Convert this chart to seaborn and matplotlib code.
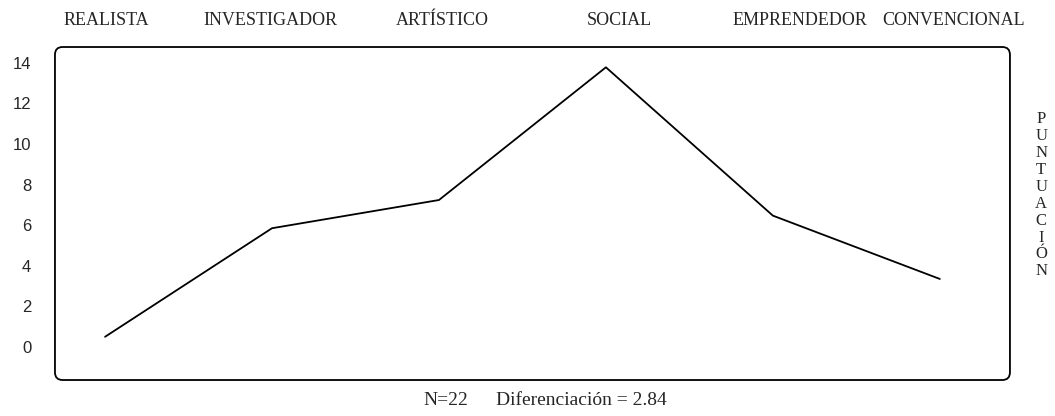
import matplotlib
matplotlib.use("Agg")
import matplotlib.pyplot as plt
import seaborn as sns
import pandas as pd
from matplotlib.patches import FancyBboxPatch

# data
categories = ["REALISTA", "INVESTIGADOR", "ARTÍSTICO", "SOCIAL", "EMPRENDEDOR", "CONVENCIONAL"]
scores = [0.5, 5.85, 7.24, 13.78, 6.47, 3.35]
yticks = [0, 2, 4, 6, 8, 10, 12, 14]
n_text = "N=22"
diff_text = "Diferenciación = 2.84"
side_label = "PUNTUACIÓN"

df = pd.DataFrame({"idx": range(len(categories)), "score": scores})

sns.set_style("white")
serif = ["Liberation Serif", "DejaVu Serif"]
sans = ["Liberation Sans", "DejaVu Sans"]

fig = plt.figure(figsize=(10.55, 4.16), dpi=100)
ax = fig.add_axes([0.0521, 0.0865, 0.9052, 0.8005])

sns.lineplot(data=df, x="idx", y="score", color="black", linewidth=1.3, ax=ax)

ax.set_xlim(-0.30, 5.42)
ax.set_ylim(-1.63, 14.78)
for s in ax.spines.values():
    s.set_visible(False)

# rounded frame
box = FancyBboxPatch((0.0, 0.0), 1.0, 1.0, boxstyle="round,pad=0,rounding_size=0.008",
                     transform=ax.transAxes, fill=False, edgecolor="black", linewidth=1.3,
                     mutation_aspect=2.9, clip_on=False)
ax.add_patch(box)

ax.set_yticks(yticks)
ax.set_yticklabels([str(v) for v in yticks], fontfamily=sans, fontsize=12)
ax.tick_params(axis="y", length=0, pad=17)

# category labels on top
label_pos = [0.01, 0.99, 2.02, 3.08, 4.16, 5.08]
ax.xaxis.tick_top()
ax.set_xticks(label_pos)
ax.set_xticklabels(categories, fontfamily=serif, fontsize=13)
ax.tick_params(axis="x", length=0, pad=13)
ax.set_xlabel("")
ax.set_ylabel("")

# stacked side label
fig.text(0.987, 0.531, "\n".join(side_label), ha="center", va="center",
         fontfamily=serif, fontsize=12, linespacing=1.08)

fig.text(0.401, 0.038, n_text, ha="left", va="center", fontfamily=serif, fontsize=14)
fig.text(0.632, 0.038, diff_text, ha="right", va="center", fontfamily=serif, fontsize=14)

fig.savefig("out.png", dpi=100)
